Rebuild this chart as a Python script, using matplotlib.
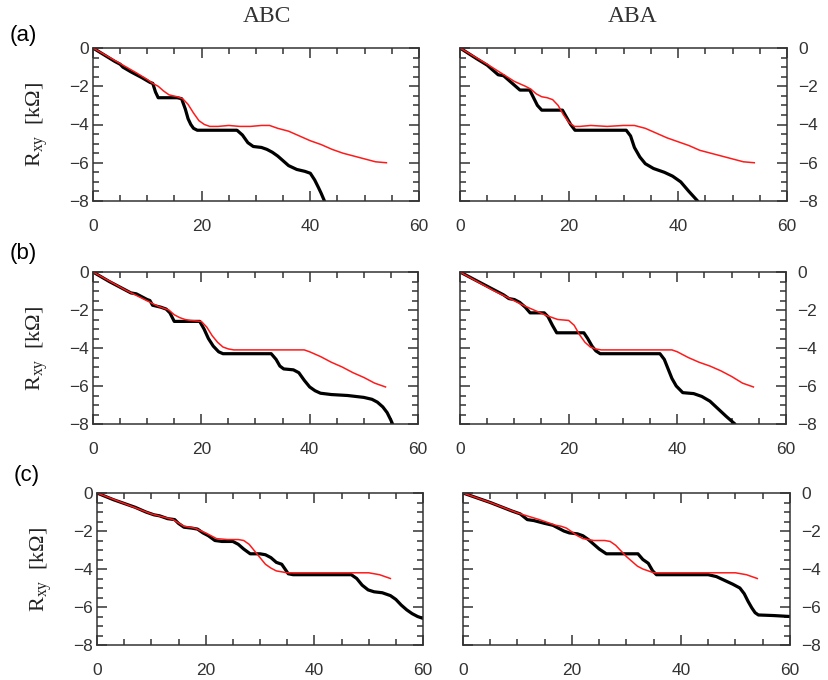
import matplotlib
matplotlib.use("Agg")
import matplotlib.pyplot as plt
from matplotlib.ticker import MultipleLocator

plt.rcParams["font.family"] = ["Liberation Sans", "DejaVu Sans"]
plt.rcParams["mathtext.fontset"] = "custom"
plt.rcParams["mathtext.rm"] = "Liberation Serif"
plt.rcParams["mathtext.it"] = "Liberation Serif:italic"

# ---- data (x in field units, y = Rxy in kOhm) ----
a_abc_black_x = [0, 2, 4, 5, 5.5, 7, 8, 9, 10.5, 11, 11.5, 12, 14, 15.5, 16.3, 17, 17.5, 18, 18.5, 19.2,
                 22, 26.5, 27.5, 28.5, 29.5, 31, 32, 33, 34, 35, 36, 37.5, 39, 40, 40.8, 41.5, 42, 42.6]
a_abc_black_y = [0, -0.35, -0.7, -0.85, -1.0, -1.25, -1.4, -1.55, -1.8, -1.85, -2.3, -2.6, -2.6, -2.6, -2.65,
                 -3.2, -3.7, -4.0, -4.2, -4.3, -4.3, -4.3, -4.55, -4.95, -5.15, -5.2, -5.3, -5.45, -5.65, -5.9,
                 -6.15, -6.35, -6.45, -6.55, -6.9, -7.3, -7.6, -8.0]
a_abc_red_x = [0, 4, 8, 10, 11, 12, 13, 14, 15.5, 16.5, 17.5, 18.5, 19.5, 20.5, 21.5, 23, 25, 27, 29, 31,
               32.5, 34, 36, 38, 40, 42, 44, 46, 48, 50, 52, 54]
a_abc_red_y = [0, -0.65, -1.3, -1.65, -1.85, -2.0, -2.25, -2.45, -2.55, -2.65, -2.95, -3.4, -3.8, -4.0, -4.1,
               -4.1, -4.05, -4.1, -4.1, -4.05, -4.05, -4.2, -4.35, -4.6, -4.85, -5.05, -5.3, -5.5, -5.65, -5.8,
               -5.95, -6.0]

a_aba_black_x = [0, 3, 5, 6, 7, 8, 9, 10, 11, 12.8, 13.5, 14.2, 15, 17, 18.8, 19.5, 20.3, 21.1, 25, 30.5,
                 31.3, 32, 33, 34, 35.5, 37.5, 39, 40.5, 42, 43.6]
a_aba_black_y = [0, -0.55, -0.9, -1.15, -1.4, -1.45, -1.7, -1.95, -2.2, -2.2, -2.6, -3.0, -3.25, -3.25, -3.25,
                 -3.6, -4.0, -4.3, -4.3, -4.3, -4.6, -5.2, -5.7, -6.05, -6.3, -6.5, -6.7, -7.0, -7.5, -8.0]
a_aba_red_x = [0, 5, 10, 12, 13, 14, 15, 16, 17, 18, 19, 20, 21, 22, 24, 27, 30, 32, 34, 36, 38, 40, 42,
               44, 46, 48, 50, 52, 54]
a_aba_red_y = [0, -0.85, -1.75, -2.0, -2.15, -2.4, -2.55, -2.6, -2.7, -3.0, -3.5, -3.9, -4.1, -4.1, -4.05,
               -4.1, -4.05, -4.05, -4.2, -4.45, -4.7, -4.9, -5.1, -5.35, -5.5, -5.65, -5.8, -5.95, -6.0]

b_abc_black_x = [0, 3, 6, 7, 8, 9, 10, 10.5, 11, 12.5, 13.5, 14.2, 15, 17, 19.7, 20.5, 21.3, 22.2, 23.2, 24,
                 28, 32.9, 33.8, 34.5, 35.2, 37, 38, 39, 40, 41, 42, 44, 47, 50, 51.5, 52.5, 53.5, 54.3, 55, 55.3]
b_abc_black_y = [0, -0.5, -0.95, -1.1, -1.15, -1.3, -1.45, -1.5, -1.75, -1.85, -1.95, -2.15, -2.6, -2.6, -2.6,
                 -3.0, -3.5, -3.9, -4.2, -4.3, -4.3, -4.3, -4.6, -4.95, -5.1, -5.15, -5.3, -5.7, -6.05, -6.25,
                 -6.38, -6.45, -6.5, -6.6, -6.7, -6.85, -7.1, -7.4, -7.8, -8.0]
b_abc_red_x = [0, 6, 12, 14, 15, 16, 17, 18, 20, 21, 22, 23, 24, 25, 26, 30, 34, 39, 40, 42, 44, 46, 48,
               50, 52, 54]
b_abc_red_y = [0, -0.95, -1.8, -2.0, -2.25, -2.4, -2.5, -2.55, -2.6, -2.9, -3.35, -3.7, -3.95, -4.05, -4.1,
               -4.1, -4.1, -4.1, -4.2, -4.45, -4.75, -5.0, -5.3, -5.55, -5.85, -6.05]

b_aba_black_x = [0, 4, 7, 8, 9, 10, 11, 12, 12.9, 15.5, 16.2, 17, 17.8, 20, 22.8, 23.5, 24.3, 25, 25.8, 30,
                 36.8, 37.6, 38.3, 39, 39.8, 41, 43, 44.5, 46, 47.5, 49, 50.6]
b_aba_black_y = [0, -0.6, -1.05, -1.2, -1.4, -1.45, -1.6, -1.85, -2.15, -2.15, -2.35, -2.8, -3.2, -3.2, -3.2,
                 -3.5, -3.9, -4.15, -4.3, -4.3, -4.3, -4.6, -5.1, -5.6, -6.0, -6.35, -6.4, -6.55, -6.8, -7.2,
                 -7.6, -8.0]
b_aba_red_x = [0, 6, 12, 14, 16, 18, 20, 21, 22, 23, 24, 25, 26, 30, 34, 39, 40, 42, 44, 46, 48, 50, 52, 54]
b_aba_red_y = [0, -0.95, -1.8, -2.05, -2.3, -2.5, -2.55, -2.8, -3.3, -3.7, -3.95, -4.05, -4.1, -4.1, -4.1,
               -4.1, -4.2, -4.5, -4.75, -4.95, -5.2, -5.5, -5.85, -6.05]

c_abc_black_x = [0, 3, 5, 7, 9, 10.5, 11.5, 13, 14.3, 15, 16, 17.5, 18.5, 19.5, 20.5, 21.7, 23, 25, 26, 27,
                 28.2, 30, 31, 32, 33, 34, 34.6, 35.2, 36.1, 40, 46.8, 47.8, 48.8, 49.9, 51, 52.5, 54, 55, 56,
                 57, 58, 59, 60]
c_abc_black_y = [0, -0.35, -0.55, -0.75, -1.0, -1.15, -1.2, -1.35, -1.4, -1.6, -1.8, -1.85, -1.9, -2.1, -2.25,
                 -2.5, -2.55, -2.55, -2.7, -2.95, -3.2, -3.2, -3.25, -3.4, -3.65, -3.75, -4.0, -4.25, -4.3,
                 -4.3, -4.3, -4.5, -4.85, -5.1, -5.2, -5.25, -5.4, -5.6, -5.9, -6.15, -6.35, -6.5, -6.6]
c_abc_red_x = [0, 5, 10, 14, 16, 18, 20, 22, 24, 26, 27, 28, 29, 30, 31, 32, 33, 35, 38, 42, 46, 50, 52, 54]
c_abc_red_y = [0, -0.55, -1.1, -1.4, -1.75, -1.85, -2.1, -2.4, -2.45, -2.45, -2.5, -2.7, -3.05, -3.4, -3.75,
               -3.95, -4.1, -4.2, -4.2, -4.2, -4.2, -4.2, -4.3, -4.5]

c_aba_black_x = [0, 5, 9, 10.5, 11.8, 13, 15, 16.5, 17.5, 18.5, 19.5, 21, 22, 23, 24, 25, 26.3, 29, 32.1, 33,
                 34, 34.8, 35.5, 40, 45, 46.5, 48, 49.5, 50.8, 51.6, 52.3, 53, 53.6, 54.2, 57, 60]
c_aba_black_y = [0, -0.5, -0.95, -1.1, -1.4, -1.45, -1.6, -1.7, -1.85, -2.0, -2.1, -2.15, -2.25, -2.45, -2.7,
                 -2.95, -3.2, -3.2, -3.2, -3.5, -3.7, -4.1, -4.3, -4.3, -4.3, -4.4, -4.6, -4.8, -5.0, -5.3,
                 -5.7, -6.05, -6.3, -6.42, -6.45, -6.5]
c_aba_red_x = [0, 5, 10, 14, 16, 17, 18, 19, 20, 21, 22, 24, 26, 27, 28, 29, 30, 31, 32, 33, 34, 35, 40, 45,
               50, 52, 54]
c_aba_red_y = [0, -0.5, -1.05, -1.4, -1.6, -1.7, -1.75, -1.85, -2.05, -2.25, -2.4, -2.5, -2.5, -2.55, -2.75,
               -3.05, -3.35, -3.6, -3.85, -4.0, -4.1, -4.2, -4.2, -4.2, -4.2, -4.3, -4.5]

column_titles = ["ABC", "ABA"]
row_labels = ["(a)", "(b)", "(c)"]
x_ticks = [0, 20, 40, 60]
y_ticks = [0, -2, -4, -6, -8]

panels = [
    [(a_abc_black_x, a_abc_black_y, a_abc_red_x, a_abc_red_y),
     (a_aba_black_x, a_aba_black_y, a_aba_red_x, a_aba_red_y)],
    [(b_abc_black_x, b_abc_black_y, b_abc_red_x, b_abc_red_y),
     (b_aba_black_x, b_aba_black_y, b_aba_red_x, b_aba_red_y)],
    [(c_abc_black_x, c_abc_black_y, c_abc_red_x, c_abc_red_y),
     (c_aba_black_x, c_aba_black_y, c_aba_red_x, c_aba_red_y)],
]

W, H = 829, 680
fig = plt.figure(figsize=(W / 100, H / 100), dpi=100)

# axes boxes in pixels: (left, right, top, bottom)
boxes = [
    [(93, 419, 48, 201), (460, 787, 48, 201)],
    [(93, 418, 272, 424), (460, 786, 272, 424)],
    [(97, 423, 493, 645), (463, 790, 493, 645)],
]

tick_color = "#333333"
for r in range(3):
    for c in range(2):
        l, rt, t, b = boxes[r][c]
        ax = fig.add_axes([l / W, 1 - b / H, (rt - l) / W, (b - t) / H])
        bx, by, rx, ry = panels[r][c]
        ax.plot(bx, by, color="black", lw=2.3, solid_joinstyle="round", solid_capstyle="round")
        ax.plot(rx, ry, color="#ff1a1a", lw=1.1)
        ax.set_xlim(0, 60)
        ax.set_ylim(-8, 0)
        ax.set_xticks(x_ticks)
        ax.set_yticks(y_ticks)
        ax.xaxis.set_minor_locator(MultipleLocator(5))
        ax.yaxis.set_minor_locator(MultipleLocator(0.5))
        ax.tick_params(which="both", direction="in", top=True, right=True, left=True, bottom=True,
                       color="#333333", width=1.1)
        ax.tick_params(which="major", length=7)
        ax.tick_params(which="minor", length=4)
        ax.tick_params(axis="x", which="major", pad=13, labelsize=12.5, labelcolor=tick_color)
        ax.tick_params(axis="y", which="major", labelsize=12.5, labelcolor=tick_color)
        if c == 1:
            ax.tick_params(axis="y", labelleft=False, labelright=True, pad=8)
        else:
            ax.tick_params(axis="y", pad=3)
            ax.set_ylabel(r"R$_{\mathregular{xy}}$  [k$\Omega$]", fontsize=16, color="#222222",
                          family="Liberation Serif", labelpad=14)
        for sp in ax.spines.values():
            sp.set_color("#333333")
            sp.set_linewidth(1.1)

fig.text(267 / W, 1 - 16 / H, column_titles[0], ha="center", va="center", fontsize=17,
         family="Liberation Serif", color="#333333")
fig.text(633 / W, 1 - 16 / H, column_titles[1], ha="center", va="center", fontsize=17,
         family="Liberation Serif", color="#333333")
label_pos = [(10, 36), (10, 253), (14, 475)]
for lab, (x, y) in zip(row_labels, label_pos):
    fig.text(x / W, 1 - y / H, lab, ha="left", va="center", fontsize=16, color="black")

fig.savefig("out.png", dpi=100)
